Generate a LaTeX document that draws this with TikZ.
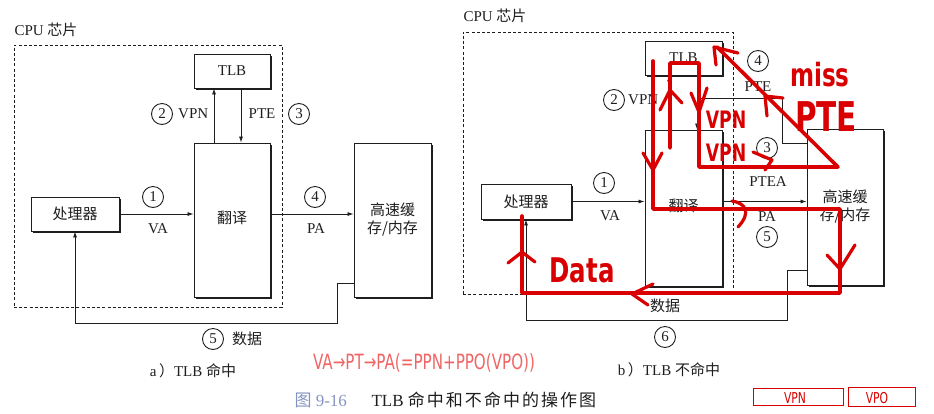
\documentclass[tikz,border=0pt]{standalone}
\usepackage{fontspec}
\setmainfont{Liberation Serif}
\newfontfamily\cjk{Noto Sans CJK SC}
\newfontfamily\capcjk[LetterSpace=12]{Noto Sans CJK SC}
\newfontfamily\hand[FakeStretch=0.72]{DejaVu Sans}
\usetikzlibrary{arrows.meta,positioning,shadows}
\definecolor{ink}{HTML}{1E1E1E}
\definecolor{penred}{HTML}{D80000}
\definecolor{pinkred}{HTML}{F06464}
\definecolor{figno}{HTML}{8494C0}
\newcommand{\zh}[1]{{\cjk #1}}
\tikzset{
  box/.style={draw=ink, fill=white, line width=0.9pt, inner sep=0pt,
    drop shadow={shadow xshift=1.6pt, shadow yshift=-1.6pt, fill=ink, opacity=1}},
  chip/.style={draw=ink, dash pattern=on 3pt off 2.2pt, line width=0.8pt, inner sep=0pt},
  num/.style={circle, draw=ink, line width=0.9pt, inner sep=0pt, minimum size=21pt,
    font=\fontsize{15}{15}\selectfont},
  arr/.style={-{Latex[length=6pt,width=4pt]}, draw=ink, line width=0.8pt},
  wire/.style={draw=ink, line width=0.8pt},
  pen/.style={draw=penred, line width=3.6pt, line cap=round, line join=round},
  chev/.style={draw=penred, line width=3.2pt, line cap=round, line join=round},
  scrawl/.style={text=penred, inner sep=0pt},
}
\begin{document}
\begin{tikzpicture}[x=1pt, y=-1pt, font=\fontsize{15}{18}\selectfont, text=ink]
  \useasboundingbox (0,0) rectangle (934,413);
  % a) TLB hit
  \node[chip, minimum width=268pt, minimum height=262pt] (chipA) at (148,176) {};
  \node[anchor=west] (chipAlbl) at (11,30) {CPU \zh{芯片}};
  \node[box, minimum width=76pt, minimum height=34pt] (tlbA) at (232,71) {TLB};
  \node[box, minimum width=76pt, minimum height=154pt] (transA) at (232,220) {\raisebox{6pt}{\zh{翻译}}};
  \node[box, minimum width=88pt, minimum height=34pt] (cpuA) at (75,214) {\zh{处理器}};
  \node[box, minimum width=77pt, minimum height=154pt, align=center] (memA) at (392.5,220)
    {\raisebox{4pt}{\zh{高速缓}}\\\raisebox{4pt}{\zh{存/内存}}};
  \draw[arr] (cpuA.east) -- (cpuA.east -| transA.west);
  \draw[arr] ([xshift=-18pt]transA.north) -- ([xshift=-18pt]tlbA.south);
  \draw[arr] ([xshift=9pt]tlbA.south) -- ([xshift=9pt]transA.north);
  \draw[arr] (cpuA.east -| transA.east) -- (cpuA.east -| memA.west);
  \draw[arr] ([yshift=-63pt]memA.west) -- ++(-16,0) |- ([yshift=-92pt]cpuA.south) -- (cpuA.south);
  \node[num] (n1A) at (153,197) {1};
  \node (vaA) at (158,229) {VA};
  \node[num] (n2A) at (162,114) {2};
  \node[anchor=west, inner sep=0pt] (vpnA) at (178,114) {VPN};
  \node (pteA) at (262,114) {PTE};
  \node[num] (n3A) at (299,114) {3};
  \node[num] (n4A) at (315,197) {4};
  \node (paA) at (316,229) {PA};
  \node[num] (n5A) at (213,339) {5};
  \node (dataA) at (247,339) {\zh{数据}};
  \node (capA) at (193,371) {a\,\zh{）}TLB \zh{命中}};
  % b) TLB miss
  \node[chip, minimum width=270pt, minimum height=262pt] (chipB) at (598,163) {};
  \node[anchor=west] (chipBlbl) at (460,16) {CPU \zh{芯片}};
  \node[box, minimum width=77pt, minimum height=34pt] (tlbB) at (683.5,58) {TLB};
  \node[box, minimum width=77pt, minimum height=156pt] (transB) at (683.5,208) {\raisebox{6pt}{\zh{翻译}}};
  \node[box, minimum width=90pt, minimum height=35pt] (cpuB) at (526,201.5) {\zh{处理器}};
  \node[box, minimum width=76pt, minimum height=156pt, align=center] (memB) at (845,207)
    {\raisebox{3pt}{\zh{高速缓}}\\\raisebox{3pt}{\zh{存/内存}}};
  \draw[arr] (cpuB.east) -- (cpuB.east -| transB.west);
  \draw[arr] ([xshift=-14.5pt]transB.north) -- ([xshift=-14.5pt]tlbB.south);
  \draw[arr] ([xshift=13.5pt]tlbB.south) -- ([xshift=13.5pt]transB.north);
  \draw[wire] ([yshift=64pt]memB.west) -- ++(-24,0) |- ([xshift=13.5pt, yshift=-23pt]tlbB.south);
  \draw[arr] (cpuB.east -| transB.east) -- (cpuB.east -| memB.west);
  \draw[arr] ([yshift=-63pt]memB.west) -- ++(-19,0) |- ([yshift=-101pt]cpuB.south) -- (cpuB.south);
  \node[num] (n1B) at (604,183) {1};
  \node (vaB) at (610,216) {VA};
  \node[num] (n2B) at (614,100) {2};
  \node[anchor=west, inner sep=0pt] (vpnB) at (628,100) {VPN};
  \node[num] (n4B) at (758,61) {4};
  \node (pteB) at (758,87) {PTE};
  \node[num] (n3B) at (767,148) {3};
  \node (pteaB) at (768,182) {PTEA};
  \node (paB) at (767,217) {PA};
  \node[num] (n5B) at (767,237) {5};
  \node (dataB) at (665,306) {\zh{数据}};
  \node[num] (n6B) at (665,337) {6};
  \node (capB) at (669,370) {b\,\zh{）}TLB \zh{不命中}};
  % figure caption
  \node[anchor=west, text=figno, font=\fontsize{17}{17}\selectfont] (figno) at (291,400) {\zh{图} 9-16};
  \node[anchor=west, font=\fontsize{17}{17}\selectfont] (figcap) at (368,400) {TLB {\capcjk 命中和不命中的操作图}};
  % red pen marks
  \draw[pen] (653,61) -- (653,209) -- (840,209) -- (840,293) -- (522,293) -- (522,216);
  \draw[pen] (670,148) -- (670,63) -- (699,63) -- (699,167) -- (838,167) -- (717,47);
  \draw[chev] (643,153) -- (653,170) -- (662,153);
  \draw[chev] (732,201) .. controls (745,203) and (752,212) .. (738,227);
  \draw[chev] (827,255) -- (840,269) -- (855,245);
  \draw[chev] (653,284) -- (632,294) -- (648,305);
  \draw[chev] (508,263) -- (522,252) -- (535,262);
  \draw[chev] (660,110) -- (670,90) -- (682,103);
  \draw[chev] (691,93) -- (699,112) -- (707,88);
  \draw[chev] (716,65) -- (714,47) -- (738,53);
  \draw[chev] (767,116) -- (765,96) -- (783,98);
  \draw[chev] (753,152) -- (772,160) -- (765,170);
  \node[scrawl, font=\hand\bfseries\fontsize{24}{24}\selectfont] (vpnOne) at (726,120) {VPN};
  \node[scrawl, font=\hand\bfseries\fontsize{24}{24}\selectfont] (vpnTwo) at (726,153) {VPN};
  \node[scrawl, font=\hand\bfseries\fontsize{32}{32}\selectfont] (miss) at (820,75) {miss};
  \node[scrawl, font=\hand\bfseries\fontsize{41}{41}\selectfont] (missPTE) at (826,117) {PTE};
  \node[scrawl, font=\hand\bfseries\fontsize{34}{34}\selectfont] (dataPen) at (582,270) {Data};
  \node[text=pinkred, font=\hand\fontsize{21}{21}\selectfont] (chain) at (424,363) {VA→PT→PA(=PPN+PPO(VPO))};
  \draw[draw=penred, line width=1pt] (753,388) rectangle (843,405);
  \draw[draw=penred, line width=1pt] (848,387) rectangle (915,406);
  \node[scrawl, font=\hand\fontsize{15}{15}\selectfont] (vpnBits) at (795,398) {VPN};
  \node[scrawl, font=\hand\fontsize{15}{15}\selectfont] (vpoBits) at (877,398) {VPO};
\end{tikzpicture}
\end{document}
